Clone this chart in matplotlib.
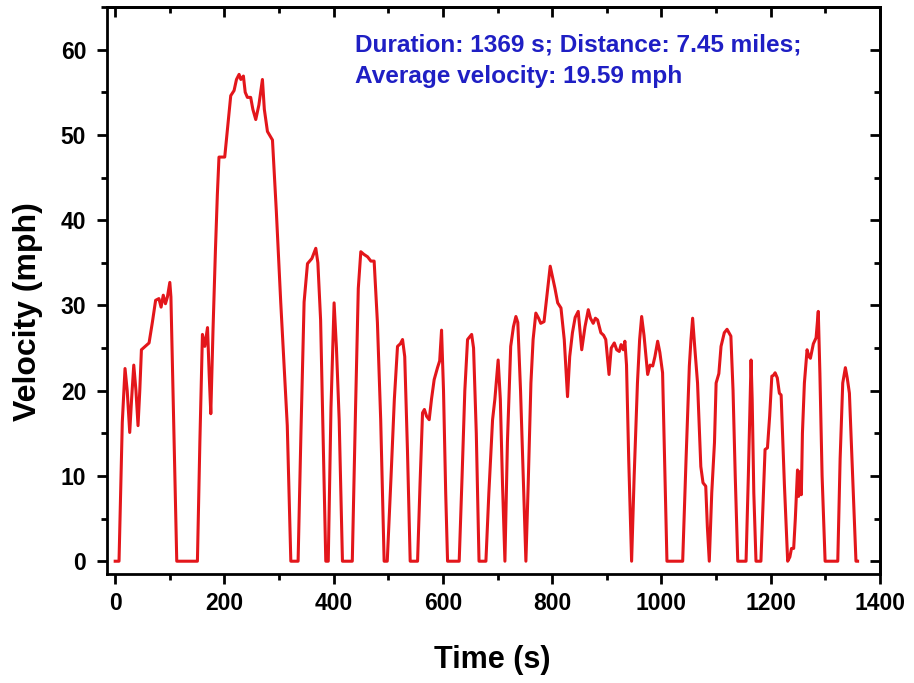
import matplotlib
matplotlib.use("Agg")
import matplotlib.pyplot as plt
from matplotlib.ticker import MultipleLocator
from matplotlib import font_manager

# ---- data ----
time_s = [
    0, 7, 10, 13, 18, 22, 26.6, 30, 34, 38, 41.8, 45, 48, 55, 62, 68, 74, 80, 84, 88, 92, 95.6, 100, 102, 112.7,
    150.5, 155, 159.7, 164, 169, 172, 175, 179, 183.5, 187, 190, 200.5, 206, 211.5, 217.6, 222, 226.8, 230, 234.7,
    238, 242, 248, 252, 257.3, 263, 269.5, 273, 278.7, 287.9, 295, 303, 310, 315, 321.5,
    334.8, 340, 345.8, 352, 360, 367.2, 371, 376, 385.5, 390, 395, 400.7, 405, 410, 416,
    434, 440, 445, 449.6, 455, 462, 468, 474, 480, 486, 492.3,
    498, 505, 511, 516.8, 522, 526, 530, 535, 540,
    553.5, 558, 562.6, 566, 570, 574.8, 579, 583.9, 590, 594, 597.4, 601, 605, 608.4,
    629.7, 635, 640, 645, 652.5, 656, 661, 666,
    678.6, 684, 690.8, 695, 701, 705, 709, 713.4, 718, 724, 729, 733.5, 737, 742, 747, 751.8,
    756, 761, 765, 770, 775, 779, 785, 790, 796.3, 800, 805, 810, 816, 822, 828, 832, 837, 842, 847.6,
    854, 860, 866, 870, 875, 879, 883, 889, 894, 898, 904, 908, 913.6, 918, 922.7, 926, 930, 933, 936, 940, 945.3,
    950, 956, 960, 963.7, 968, 974.7, 979, 984, 988, 993, 997, 1002, 1006, 1010,
    1038.8, 1045, 1051, 1054, 1057, 1061, 1066, 1072, 1076, 1081, 1084, 1087.5,
    1092, 1097, 1100, 1105, 1109, 1115, 1120, 1127, 1131, 1135, 1139.6,
    1154.8, 1159, 1162, 1164, 1166, 1169, 1173,
    1182, 1186, 1189.6, 1194, 1198, 1202, 1205, 1208, 1212, 1215.8, 1219, 1225, 1231,
    1235, 1238, 1242, 1245, 1249, 1251, 1253, 1256, 1258, 1261.6, 1266.5, 1270, 1272.6, 1278, 1283, 1287, 1290,
    1294, 1299.5,
    1322.7, 1327, 1331.8, 1336.6, 1340, 1344, 1350, 1356, 1359,
]
velocity_mph = [
    0, 0, 8, 16.3, 22.6, 20, 15.1, 19, 23, 20, 15.9, 20, 24.8, 25.2, 25.6, 28, 30.6, 30.8, 29.8, 31.2, 30.2, 31, 32.7, 31, 0,
    0, 14, 26.6, 25.2, 27.4, 22, 17.3, 27, 36.5, 43, 47.4, 47.4, 51, 54.6, 55.2, 56.5, 57.1, 56.5, 56.9,
    55, 54.4, 54.4, 53, 51.8, 53.5, 56.5, 53, 50.4, 49.4, 41, 30.4, 22, 15.9, 0,
    0, 15, 30.4, 34.9, 35.5, 36.7, 35, 28.3, 0, 0, 18, 30.3, 25, 16.6, 0,
    0, 18, 32, 36.3, 36, 35.7, 35.2, 35.2, 28, 16.6, 0,
    0, 10, 19, 25.2, 25.5, 26, 24, 13, 0,
    0, 9, 17.4, 17.8, 17, 16.6, 19, 21.3, 22.7, 23.5, 27.1, 20, 8, 0,
    0, 10, 20, 26, 26.6, 25, 15, 0,
    0, 8, 16.6, 19, 23.6, 19, 9, 0, 14, 25.2, 27.5, 28.7, 28, 20, 10, 0,
    9, 20.9, 26, 29.1, 28.5, 27.9, 28.1, 31, 34.6, 33.5, 32, 30.3, 29.7, 26, 19.3, 24, 26.8, 28.6, 29.3,
    24.8, 27.5, 29.5, 28.5, 27.9, 28.5, 28.3, 26.8, 26.5, 26, 21.9, 25, 25.6, 24.8, 24.6, 25.4, 24.8, 25.8, 23, 12, 0,
    10, 20.9, 26, 28.7, 26.5, 21.9, 23, 22.9, 24, 25.8, 24.5, 22.1, 11, 0,
    0, 12, 22.9, 26, 28.5, 25, 20.9, 11.1, 9.2, 8.8, 4, 0,
    8, 13.9, 20.9, 22, 25.2, 26.8, 27.2, 26.4, 20, 10, 0,
    0, 10, 18, 23.6, 19, 8, 0,
    0, 7, 13.1, 13.3, 17, 21.7, 21.8, 22.1, 21.5, 19.7, 19.5, 9, 0,
    0.5, 1.5, 1.5, 5, 10.7, 7.6, 10.5, 7.8, 15, 20.9, 24.8, 24, 23.8, 25.5, 26.2, 29.3, 22,
    10, 0,
    0, 12, 20.9, 22.7, 21.5, 19.7, 10, 0, 0,
]
assert len(time_s) == len(velocity_mph)

x_ticks = [0, 200, 400, 600, 800, 1000, 1200, 1400]
y_ticks = [0, 10, 20, 30, 40, 50, 60]
info_lines = ["Duration: 1369 s; Distance: 7.45 miles;",
              "Average velocity: 19.59 mph"]

plt.rcParams['font.family'] = ['Liberation Sans', 'DejaVu Sans']
plt.rcParams['font.weight'] = 'bold'

# condensed face for the tick labels if available
try:
    font_manager.findfont(font_manager.FontProperties(family='Liberation Sans Narrow', weight='bold'),
                          fallback_to_default=False)
    tick_family = ['Liberation Sans Narrow', 'Liberation Sans']
    tick_size = 19
except Exception:
    tick_family = ['Liberation Sans', 'DejaVu Sans']
    tick_size = 16.5

W, H = 914, 683
fig = plt.figure(figsize=(W / 100, H / 100), dpi=100)
L, R, T, B = 107, 880, 7, 574
ax = fig.add_axes([L / W, 1 - B / H, (R - L) / W, (B - T) / H])

ax.plot(time_s, velocity_mph, color='#e3161b', lw=2.2, solid_joinstyle='round')

ax.set_xlim(-15, 1400)
ax.set_ylim(-1.5, 65)
ax.set_xticks(x_ticks)
ax.set_yticks(y_ticks)
ax.xaxis.set_minor_locator(MultipleLocator(100))
ax.yaxis.set_minor_locator(MultipleLocator(5))

for s in ax.spines.values():
    s.set_linewidth(2.0)

ax.tick_params(which='both', direction='out', width=2.0, top=False, right=False)
ax.tick_params(which='major', length=7)
ax.tick_params(which='minor', length=4.5)
ax.tick_params(axis='x', pad=6)
ax.tick_params(axis='y', pad=8)
for lab in ax.get_xticklabels() + ax.get_yticklabels():
    lab.set_fontweight('bold')
    lab.set_family(tick_family)
    lab.set_fontsize(tick_size)

# mirrored inward ticks on top and right
top = ax.secondary_xaxis('top')
top.set_xticks(x_ticks)
top.xaxis.set_minor_locator(MultipleLocator(100))
top.tick_params(which='both', direction='in', width=2.0, labeltop=False)
top.tick_params(which='major', length=7)
top.tick_params(which='minor', length=4.5)
right = ax.secondary_yaxis('right')
right.set_yticks(y_ticks)
right.yaxis.set_minor_locator(MultipleLocator(5))
right.tick_params(which='both', direction='in', width=2.0, labelright=False)
right.tick_params(which='major', length=7)
right.tick_params(which='minor', length=4.5)
for sa in (top, right):
    for s in sa.spines.values():
        s.set_linewidth(2.0)

ax.set_xlabel('Time (s)', fontsize=22, fontweight='bold')
ax.set_ylabel('Velocity (mph)', fontsize=23, fontweight='bold')
ax.xaxis.set_label_coords((492 - L) / (R - L), (B - 660) / (B - T))
ax.xaxis.label.set_va('center')
ax.yaxis.set_label_coords((28 - L) / (R - L), (B - 312) / (B - T))
ax.yaxis.label.set_va('center')

blue = '#1f1fc4'
fig.text(355 / W, 1 - 45 / H, info_lines[0], color=blue, fontsize=17.6, fontweight='bold', va='center', ha='left')
fig.text(355 / W, 1 - 76 / H, info_lines[1], color=blue, fontsize=17.6, fontweight='bold', va='center', ha='left')

fig.savefig('out.png', dpi=100)
